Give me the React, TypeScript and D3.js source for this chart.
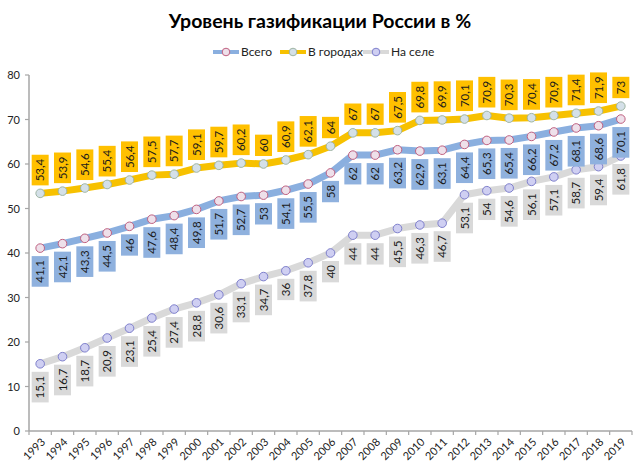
import React, { useEffect, useRef } from "react";
import * as d3 from "d3";

const years = [
  "1993","1994","1995","1996","1997","1998","1999","2000","2001","2002","2003","2004","2005","2006",
  "2007","2008","2009","2010","2011","2012","2013","2014","2015","2016","2017","2018","2019",
];
const total = [41.1,42.1,43.3,44.5,46,47.6,48.4,49.8,51.7,52.7,53,54.1,55.5,58,62,62,63.2,62.9,63.1,64.4,65.3,65.4,66.2,67.2,68.1,68.6,70.1];
const urban = [53.4,53.9,54.6,55.4,56.4,57.5,57.7,59.1,59.7,60.2,60,60.9,62.1,64,67,67,67.5,69.8,69.9,70.1,70.9,70.3,70.4,70.9,71.4,71.9,73];
const rural = [15.1,16.7,18.7,20.9,23.1,25.4,27.4,28.8,30.6,33.1,34.7,36,37.8,40,44,44,45.5,46.3,46.7,53.1,54,54.6,56.1,57.1,58.7,59.4,61.8];
const yTicks = [0,10,20,30,40,50,60,70,80];
const seriesNames = ["Всего","В городах","На селе"];
const title = "Уровень газификации России в %";

const FONT = "Lato, 'Open Sans', sans-serif";

export default function App() {
  const ref = useRef<SVGSVGElement>(null);

  useEffect(() => {
    const svg = d3.select(ref.current!);
    svg.selectAll("*").remove();
    const W = 640, H = 470;
    const x = d3.scaleBand<string>().domain(years).range([29, 632]);
    const y = d3.scaleLinear().domain([0, 80]).range([431, 75]);
    const cx = (yr: string) => (x(yr) as number) + x.bandwidth() / 2;

    svg.append("rect").attr("width", W).attr("height", H).attr("fill", "#fff");

    svg.append("text").attr("x", 320).attr("y", 28).attr("text-anchor", "middle")
      .attr("font-family", FONT).attr("font-weight", "bold").attr("font-size", 19.5)
      .attr("fill", "#000").text(title);

    const series = [
      { name: seriesNames[0], data: total, line: "#8aafdf", box: "#8fb1de", mFill: "#eee0ea", mStroke: "#c06080", above: false },
      { name: seriesNames[1], data: urban, line: "#f7c100", box: "#ffc000", mFill: "#d4e0e8", mStroke: "#9fb5a4", above: true },
      { name: seriesNames[2], data: rural, line: "#d9d9d9", box: "#d9d9d9", mFill: "#cfcff2", mStroke: "#7f80cc", above: false },
    ];

    // axes
    const ax = svg.append("g");
    ax.append("line").attr("x1", 29).attr("x2", 29).attr("y1", 75).attr("y2", 431)
      .attr("stroke", "#a6a6a6").attr("stroke-width", 1.5);
    ax.append("line").attr("x1", 29).attr("x2", 632).attr("y1", 431).attr("y2", 431)
      .attr("stroke", "#a6a6a6").attr("stroke-width", 1.5);
    yTicks.forEach((t) => {
      ax.append("line").attr("x1", 25).attr("x2", 29).attr("y1", y(t)).attr("y2", y(t))
        .attr("stroke", "#a6a6a6").attr("stroke-width", 1.2);
      ax.append("text").attr("x", 20).attr("y", y(t) + 4).attr("text-anchor", "end")
        .attr("font-family", FONT).attr("font-size", 11).attr("fill", "#222").text(String(t));
    });
    [...years.map((yr) => x(yr) as number), 632].forEach((px) => {
      ax.append("line").attr("x1", px).attr("x2", px).attr("y1", 431).attr("y2", 435)
        .attr("stroke", "#a6a6a6").attr("stroke-width", 1.2);
    });
    years.forEach((yr) => {
      const px = cx(yr) + 3, py = 440;
      ax.append("text").attr("transform", `translate(${px},${py}) rotate(-45)`)
        .attr("text-anchor", "end").attr("font-family", FONT).attr("font-size", 11)
        .attr("fill", "#222").attr("dy", "0.35em").text(yr);
    });

    const lineGen = d3.line<number>().x((_, i) => cx(years[i])).y((d) => y(d));

    // lines and markers
    series.forEach((s) => {
      svg.append("path").attr("d", lineGen(s.data)!).attr("fill", "none")
        .attr("stroke", s.line).attr("stroke-width", 7).attr("stroke-linejoin", "round");
    });
    series.forEach((s) => {
      s.data.forEach((v, i) => {
        svg.append("circle").attr("cx", cx(years[i])).attr("cy", y(v)).attr("r", 4.3)
          .attr("fill", s.mFill).attr("stroke", s.mStroke).attr("stroke-width", 1);
      });
    });

    // labels
    series.forEach((s) => {
      s.data.forEach((v, i) => {
        const label = String(v).replace(".", ",");
        const g = svg.append("g");
        const rect = g.append("rect").attr("fill", s.box);
        const txt = g.append("text").attr("font-family", FONT).attr("font-size", 11.5)
          .attr("fill", "#1a1a1a").attr("text-anchor", "middle").attr("dy", "0.35em").text(label);
        const len = (txt.node() as SVGTextElement).getComputedTextLength();
        const h = len + 8, w = 17;
        const px = cx(years[i]);
        const py = y(v);
        const top = s.above ? py - 8 - h : py + 8;
        rect.attr("x", px - w / 2).attr("y", top).attr("width", w).attr("height", h);
        txt.attr("transform", `translate(${px},${top + h / 2}) rotate(-90)`);
      });
    });

    // legend
    const leg = svg.append("g");
    const legItems = [
      { s: series[0], x0: 213 },
      { s: series[1], x0: 280 },
      { s: series[2], x0: 363 },
    ];
    legItems.forEach(({ s, x0 }) => {
      leg.append("line").attr("x1", x0).attr("x2", x0 + 26).attr("y1", 52).attr("y2", 52)
        .attr("stroke", s.line).attr("stroke-width", 4);
      leg.append("circle").attr("cx", x0 + 13).attr("cy", 52).attr("r", 3.8)
        .attr("fill", s.mFill).attr("stroke", s.mStroke).attr("stroke-width", 1);
      leg.append("text").attr("x", x0 + 28).attr("y", 52).attr("dy", "0.35em")
        .attr("font-family", FONT).attr("font-size", 12).attr("fill", "#222").text(s.name);
    });
  }, []);

  return (
    <svg ref={ref} width={640} height={470}
      style={{ position: "absolute", left: 0, top: 0, display: "block" }} />
  );
}
